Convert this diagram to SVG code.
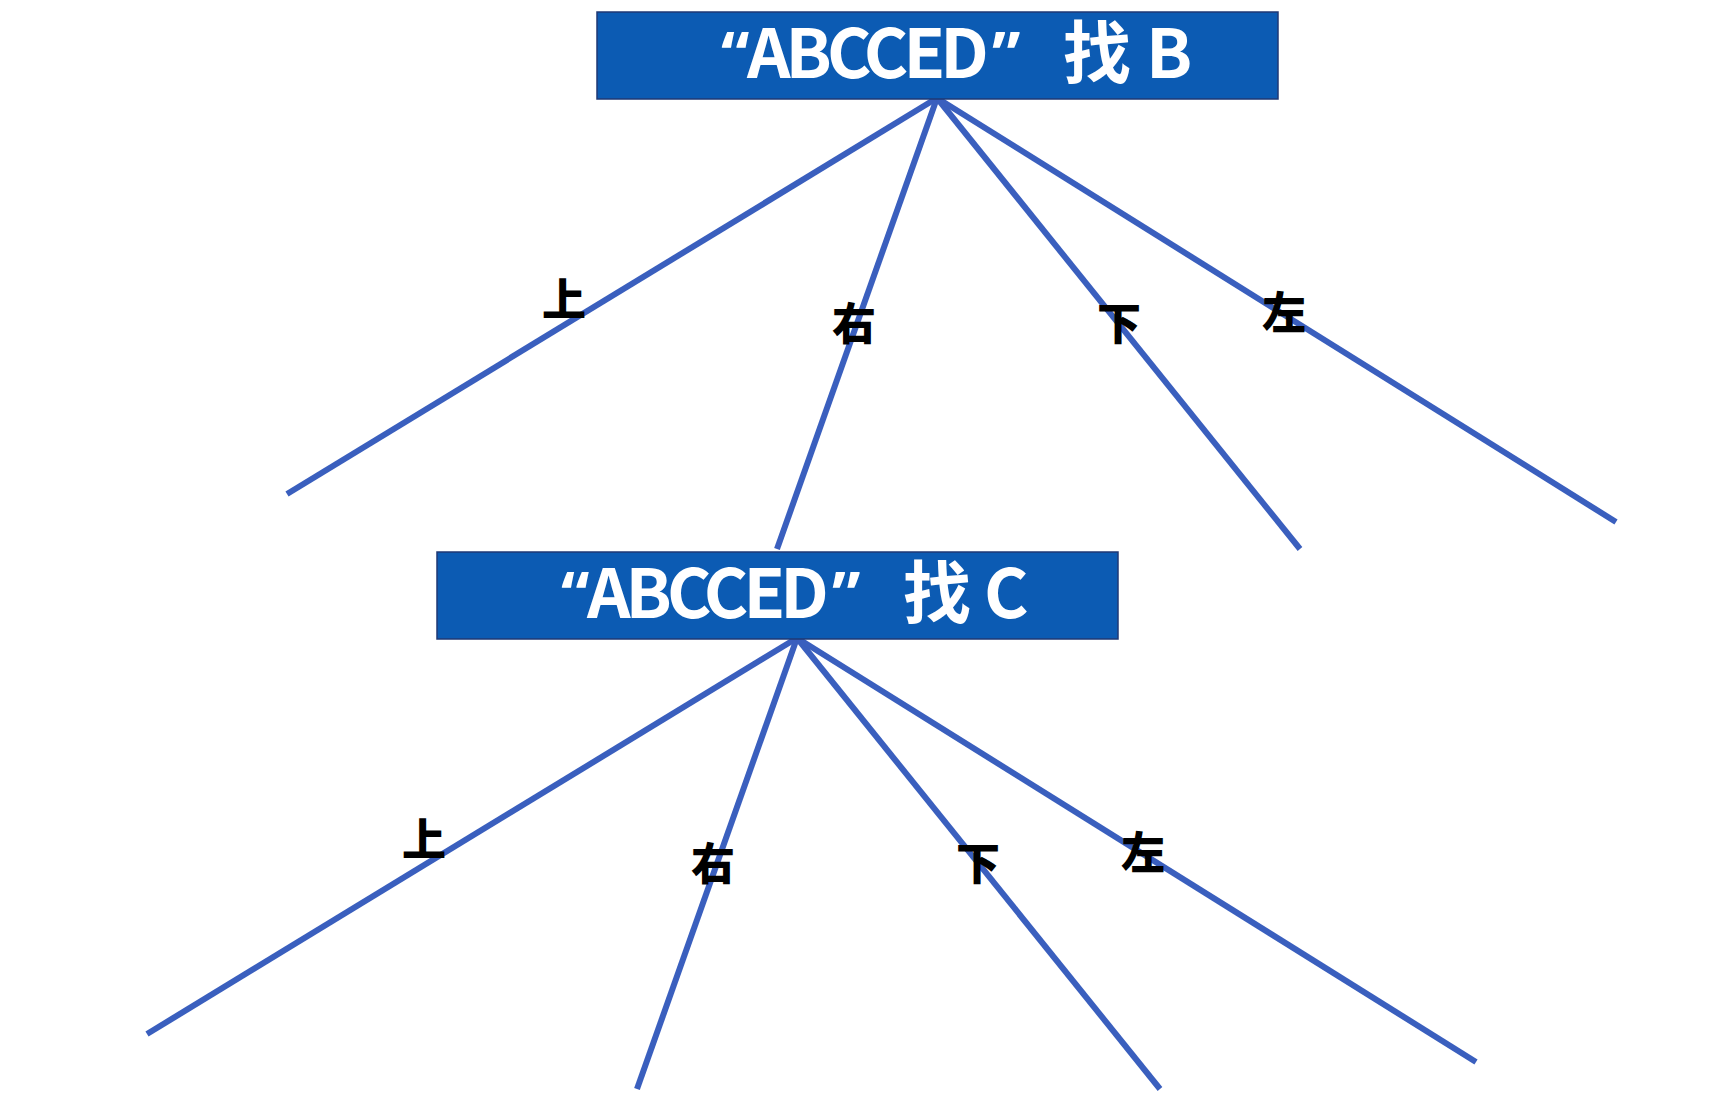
<svg xmlns="http://www.w3.org/2000/svg" width="1730" height="1106" viewBox="0 0 1730 1106">
<style>
.box{fill:#0C5BB3;stroke:#1F3874;stroke-width:1.5}
.title{fill:#fff;font-family:"Noto Sans CJK SC","Open Sans",sans-serif;font-weight:bold;font-size:68px}
.q{font-family:"Noto Sans",sans-serif;font-size:64px}
.w{letter-spacing:-5px}
.lbl{fill:#000;font-family:"Noto Sans CJK SC",sans-serif;font-weight:900;font-size:44px;text-anchor:middle}
.edge{stroke:#3A5FBE;stroke-width:6;fill:none}
</style>
<rect width="1730" height="1106" fill="#fff"/>
<g id="connectors">
<line class="edge" x1="937" y1="98" x2="287" y2="494"/>
<line class="edge" x1="937" y1="98" x2="777" y2="549"/>
<line class="edge" x1="937" y1="98" x2="1300" y2="549"/>
<line class="edge" x1="937" y1="98" x2="1616" y2="522"/>
<line class="edge" x1="797" y1="638" x2="147" y2="1034"/>
<line class="edge" x1="797" y1="638" x2="637" y2="1089"/>
<line class="edge" x1="797" y1="638" x2="1160" y2="1089"/>
<line class="edge" x1="797" y1="638" x2="1476" y2="1062"/>
</g>
<g id="labels">
<text class="lbl" x="564" y="316">上</text>
<text class="lbl" x="854" y="340">右</text>
<text class="lbl" x="1119" y="340">下</text>
<text class="lbl" x="1284" y="329">左</text>
<text class="lbl" x="424" y="856">上</text>
<text class="lbl" x="713" y="880">右</text>
<text class="lbl" x="978" y="880">下</text>
<text class="lbl" x="1143" y="869">左</text>
</g>
<g id="nodeB">
<rect class="box" x="597" y="12" width="681" height="87"/>
<text class="title" y="78"><tspan class="q" x="721">“</tspan><tspan class="w" x="747">ABCCED</tspan><tspan class="q" x="992">”</tspan><tspan x="1063">找</tspan><tspan x="1146">B</tspan></text>
</g>
<g id="nodeC">
<rect class="box" x="437" y="552" width="681" height="87"/>
<text class="title" y="618"><tspan class="q" x="561">“</tspan><tspan class="w" x="587">ABCCED</tspan><tspan class="q" x="832">”</tspan><tspan x="903">找</tspan><tspan x="984">C</tspan></text>
</g>
</svg>
